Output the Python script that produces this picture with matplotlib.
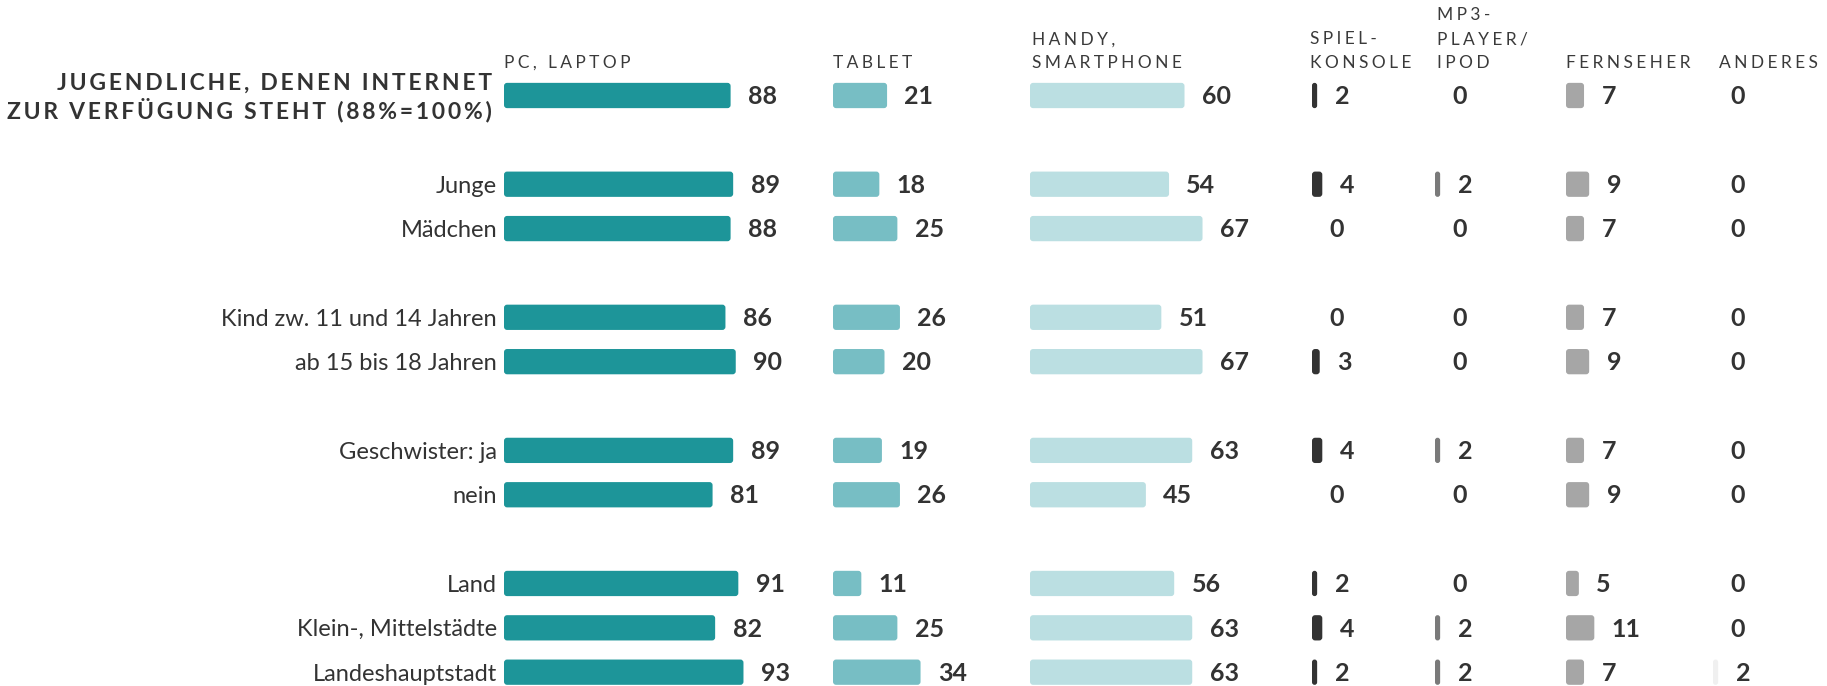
import matplotlib
matplotlib.use("Agg")
import matplotlib.pyplot as plt
from matplotlib.patches import FancyBboxPatch

plt.rcParams["font.family"] = ["Lato", "DejaVu Sans"]

W, H, DPI = 1827, 686, 100

TITLE = ["JUGENDLICHE, DENEN INTERNET", "ZUR VERFÜGUNG STEHT (88%=100%)"]
GROUPS = [
    ["Junge", "Mädchen"],
    ["Kind zw. 11 und 14 Jahren", "ab 15 bis 18 Jahren"],
    ["Geschwister: ja", "nein"],
    ["Land", "Klein-, Mittelstädte", "Landeshauptstadt"],
]
HEADERS = ["PC, LAPTOP", "TABLET", "HANDY,\nSMARTPHONE", "SPIEL-\nKONSOLE",
           "MP3-\nPLAYER/\nIPOD", "FERNSEHER", "ANDERES"]

# first value = all young people with internet, then the rows of GROUPS
PC = [88, 89, 88, 86, 90, 89, 81, 91, 82, 93]
TABLET = [21, 18, 25, 26, 20, 19, 26, 11, 25, 34]
HANDY = [60, 54, 67, 51, 67, 63, 45, 56, 63, 63]
SPIEL = [2, 4, 0, 0, 3, 4, 0, 2, 4, 2]
MP3 = [0, 2, 0, 0, 0, 2, 0, 0, 2, 2]
FERNSEHER = [7, 9, 7, 7, 9, 7, 9, 5, 11, 7]
ANDERES = [0, 0, 0, 0, 0, 0, 0, 0, 0, 2]

SERIES = [PC, TABLET, HANDY, SPIEL, MP3, FERNSEHER, ANDERES]
COLORS = ["#1d9599", "#77bec4", "#bbdfe2", "#333333", "#7a7a7a", "#a6a6a6", "#f0f0f0"]
TXT = "#333333"

# layout (pixels)
COL_LEFT = [504, 833, 1030, 1312, 1435, 1566, 1713]
HEAD_SHIFT = [0, 0, 2, -2, 2, 0, 6]
PX_PER_UNIT = 2.575
ROW0_PX, ROW_PX = 95.5, 44.36
BAR_H = 0.57
HAIR = "\u200a"  # poor man's letter spacing


def spaced(s, n):
    return "\n".join((HAIR * n).join(line) for line in s.split("\n"))


def rounded_bar(ax, y, w, color):
    if w <= 0:
        return
    rs = min(1.2, w / 2)
    ax.add_patch(FancyBboxPatch((0, y - BAR_H / 2), w, BAR_H,
                                boxstyle=f"round,pad=0,rounding_size={rs}",
                                mutation_aspect=PX_PER_UNIT / ROW_PX,
                                fc=color, ec="none"))


def main():
    rows = [0]
    r = 0
    for g in GROUPS:
        r += 1
        for _ in g:
            r += 1
            rows.append(r)
    labels = [lab for g in GROUPS for lab in g]

    fig = plt.figure(figsize=(W / DPI, H / DPI), dpi=DPI)
    y_top = -ROW0_PX / ROW_PX
    y_bot = (H - ROW0_PX) / ROW_PX

    axes = []
    for i, vals in enumerate(SERIES):
        left = COL_LEFT[i]
        right = COL_LEFT[i + 1] if i + 1 < len(COL_LEFT) else W
        ax = fig.add_axes([left / W, 0, (right - left) / W, 1])
        ax.set_xlim(0, (right - left) / PX_PER_UNIT)
        ax.set_ylim(y_bot, y_top)
        ax.axis("off")
        for y, v in zip(rows, vals):
            rounded_bar(ax, y, v, COLORS[i])
            ax.annotate(str(v), xy=(v, y), xytext=(12.5, -6.3), textcoords="offset points",
                        ha="left", va="baseline", fontsize=18, fontweight="bold",
                        color=TXT, annotation_clip=False)
        fig.text((left + HEAD_SHIFT[i]) / W, 1 - 71 / H, spaced(HEADERS[i], 3),
                 ha="left", va="bottom", fontsize=12.5, color="#3a3a3a", linespacing=1.6)
        axes.append(ax)

    ax = axes[0]
    for y, lab in zip(rows[1:], labels):
        ax.annotate(lab, xy=(0, y), xytext=(-5, -6), textcoords="offset points",
                    ha="right", va="baseline", fontsize=17, color=TXT,
                    annotation_clip=False)
    for line, dy in zip(TITLE, [4.2, -16.8]):
        ax.annotate(spaced(line, 2), xy=(0, rows[0]), xytext=(-8.5, dy),
                    textcoords="offset points", ha="right", va="baseline",
                    fontsize=16.5, fontweight="bold", color=TXT, annotation_clip=False)

    fig.savefig("out.png", dpi=DPI)


if __name__ == "__main__":
    main()
